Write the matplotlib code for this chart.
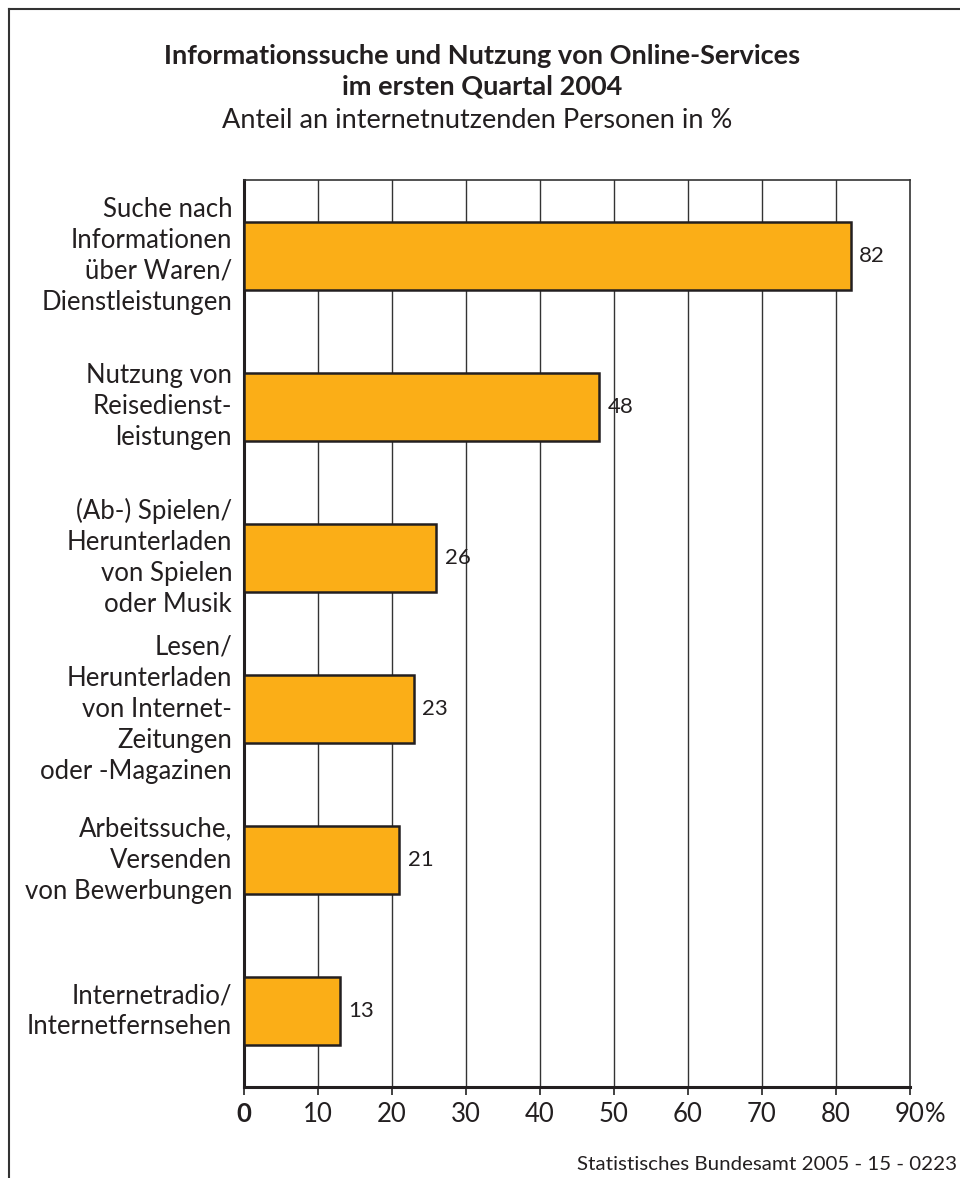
import matplotlib
matplotlib.use("Agg")
import matplotlib.pyplot as plt
from matplotlib.lines import Line2D

categories = [
    "Suche nach\nInformationen\nüber Waren/\nDienstleistungen",
    "Nutzung von\nReisedienst-\nleistungen",
    "(Ab-) Spielen/\nHerunterladen\nvon Spielen\noder Musik",
    "Lesen/\nHerunterladen\nvon Internet-\nZeitungen\noder -Magazinen",
    "Arbeitssuche,\nVersenden\nvon Bewerbungen",
    "Internetradio/\nInternetfernsehen",
]
values = [82, 48, 26, 23, 21, 13]
xticks = [0, 10, 20, 30, 40, 50, 60, 70, 80, 90]
xticklabels = ["0", "10", "20", "30", "40", "50", "60", "70", "80", "90"]

title = "Informationssuche und Nutzung von Online-Services\nim ersten Quartal 2004"
subtitle = "Anteil an internetnutzenden Personen in %"
source = "Statistisches Bundesamt 2005 - 15 - 0223"

FONT = ["Lato", "DejaVu Sans"]
plt.rcParams["font.family"] = FONT
TXT = "#231f20"
BAR = "#fbae17"

W, H = 960, 1178
fig = plt.figure(figsize=(W / 100, H / 100), dpi=100)
fig.patch.set_facecolor("white")

# outer frame (top and left lines, continues beyond the image)
fig.add_artist(Line2D([9 / W, 1.0], [1 - 9 / H, 1 - 9 / H], transform=fig.transFigure,
                      color="#333333", lw=1.5))
fig.add_artist(Line2D([9 / W, 9 / W], [0.0, 1 - 9 / H], transform=fig.transFigure,
                      color="#333333", lw=1.5))

left, right, top, bottom = 244, 910, 180, 1087
ax = fig.add_axes([left / W, 1 - bottom / H, (right - left) / W, (bottom - top) / H])

ypos = list(range(len(categories)))
ax.set_xlim(0, 90)
ax.set_ylim(len(categories) - 0.5, -0.5)

for x in xticks[1:-1]:
    ax.axvline(x, color="#333333", lw=1.0, zorder=1)

ax.barh(ypos, values, height=0.45, color=BAR, edgecolor="#231f20", linewidth=1.8, zorder=3)

for y, v in zip(ypos, values):
    ax.text(v + 1.1, y, str(v), va="center", ha="left", fontsize=16, color=TXT)

for y, lab in zip(ypos, categories):
    ax.text(-1.6, y, lab, ha="right", va="center", fontsize=18.5, color=TXT,
            linespacing=1.3)

ax.set_yticks([])
ax.set_xticks(xticks)
ax.set_xticklabels(xticklabels, fontsize=18.5, color=TXT)
ax.get_xticklabels()[0].set_fontweight("bold")
ax.tick_params(axis="x", length=6, width=1.3, color="#333333", pad=5, direction="out")
ax.annotate("%", xy=(90, 0), xycoords=("data", "axes fraction"),
            xytext=(10.5, -11), textcoords="offset points",
            fontsize=18.5, color=TXT, ha="left", va="top")

for s in ["top", "right"]:
    ax.spines[s].set_linewidth(1.2)
    ax.spines[s].set_color("#333333")
for s in ["left", "bottom"]:
    ax.spines[s].set_linewidth(2.2)
    ax.spines[s].set_color("#231f20")

fig.text(482 / W, 1 - 71 / H, title, ha="center", va="center", fontsize=19.5,
         fontweight="bold", color=TXT, linespacing=1.3)
fig.text(477 / W, 1 - 121 / H, subtitle, ha="center", va="center", fontsize=19.5,
         color=TXT)
fig.text(957 / W, 1 - 1165 / H, source, ha="right", va="center", fontsize=14.75, color=TXT)

fig.savefig("out.png", dpi=100, facecolor="white")
